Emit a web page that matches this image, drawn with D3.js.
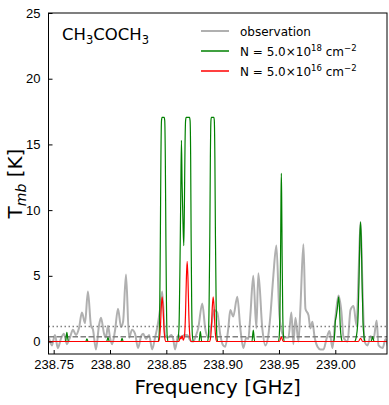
<!DOCTYPE html>
<html>
<head>
<meta charset="utf-8">
<style>
  body { margin: 0; background: #fff; }
  svg { display: block; font-family: "DejaVu Sans", sans-serif; }
  .axis text { font-size: 13px; fill: #000; }
  .axis line { stroke: #000; stroke-width: 1; }
  .axis path { display: none; }
  .line { fill: none; stroke-linejoin: round; }
</style>
</head>
<body>
<svg width="389" height="405"></svg>
<script src="https://d3js.org/d3.v7.min.js"></script>
<script>

// observation: frequency (GHz) and T_mb (K)
var obsFreq = [238.7457, 238.7484, 238.7511, 238.7537, 238.7564, 238.7591, 238.7617, 238.7644, 238.7671, 238.7698,
  238.7724, 238.7751, 238.7778, 238.7804, 238.7831, 238.7849, 238.7875, 238.7902, 238.7920, 238.7947,
  238.7964, 238.7982, 238.8000, 238.8018, 238.8044, 238.8071, 238.8098, 238.8116, 238.8142, 238.8169,
  238.8196, 238.8222, 238.8249, 238.8276, 238.8294, 238.8320, 238.8347, 238.8374, 238.8400, 238.8418,
  238.8445, 238.8463, 238.8489, 238.8516, 238.8543, 238.8561, 238.8578, 238.8605, 238.8632, 238.8658,
  238.8685, 238.8712, 238.8738, 238.8765, 238.8783, 238.8819, 238.8845, 238.8872, 238.8899, 238.8925,
  238.8952, 238.8979, 238.9005, 238.9023, 238.9050, 238.9068, 238.9094, 238.9130, 238.9157, 238.9183,
  238.9210, 238.9228, 238.9246, 238.9272, 238.9299, 238.9317, 238.9352, 238.9379, 238.9406, 238.9424,
  238.9450, 238.9477, 238.9504, 238.9530, 238.9557, 238.9584, 238.9610, 238.9628, 238.9646, 238.9673,
  238.9690, 238.9717, 238.9735, 238.9762, 238.9779, 238.9797, 238.9815, 238.9842, 238.9868, 238.9895,
  238.9922, 238.9948, 238.9975, 239.0002, 239.0028, 239.0055, 239.0073, 239.0109, 239.0135, 239.0162,
  239.0189, 239.0206, 239.0224, 239.0242, 239.0260, 239.0286, 239.0313, 239.0340, 239.0367, 239.0384,
  239.0420, 239.0447, 239.0464];
var obsT = [0.3, -0.3, 0.5, -0.5, 0.2, 0.6, -0.2, 0.3, 0.9, 0.5,
  1.0, 2.2, 1.4, 3.8, 1.2, 0.9, -0.6, 1.2, 1.8, 0.6,
  0.3, 1.2, 0.3, -0.2, 0.8, 2.5, 1.1, 1.5, 5.1, 0.3,
  0.9, 0.6, -0.5, 0.4, 0.6, 0.2, 0.5, -0.6, 0.3, 1.0,
  2.5, 3.8, 0.5, 0.3, 0.5, 0.2, -0.6, 0.5, 0.3, 0.5,
  0.5, 0.1, 0.0, 0.5, 1.0, 2.9, 1.0, 0.3, 1.2, 2.4,
  2.2, 0.5, -0.3, -0.4, 1.0, 2.4, 1.9, 3.4, 1.0, -0.5,
  0.3, 0.2, 2.0, 5.0, 1.0, 5.2, 1.0, -0.3, 0.5, 2.0,
  5.0, 7.3, 2.0, 0.6, 0.3, 0.3, 2.2, -0.2, 1.8, 0.0,
  2.5, 7.4, 2.5, 2.0, 1.0, 1.5, 0.4, -0.4, -0.6, -0.6,
  0.2, 0.8, -0.5, 1.9, 3.5, 2.2, 0.3, 0.0, 2.4, 2.7,
  1.2, 5.0, 9.1, 4.0, 0.0, -0.3, 0.4, 0.2, 1.6, -0.3,
  -0.5, 0.2, -0.3];

// model N = 5.0e18 cm^-2
var modelHigh = [[238.7454, 0], [238.7605, 0], [238.7617, 0.7], [238.7630, 0],
  [238.7785, 0], [238.7795, 0.2], [238.7805, 0],
  [238.7970, 0], [238.7982, 0.3], [238.7994, 0],
  [238.8097, 0], [238.8107, 0.25], [238.8117, 0],
  [238.8428, 0], [238.8436, 0.5], [238.8442, 3], [238.8447, 8], [238.8452, 14], [238.8457, 16.8], [238.8462, 17.05],
  [238.8481, 17.05], [238.8486, 16.8], [238.8491, 14], [238.8496, 8], [238.8501, 3], [238.8507, 0.5], [238.8515, 0],
  [238.8600, 0], [238.8612, 1], [238.8620, 5], [238.8628, 11], [238.8634, 15.3], [238.8640, 12], [238.8648, 9],
  [238.8655, 7.3], [238.8660, 10], [238.8666, 15], [238.8671, 16.8], [238.8676, 17.05], [238.8706, 17.05],
  [238.8711, 16.8], [238.8716, 14], [238.8720, 8], [238.8725, 3], [238.8731, 0.5], [238.8740, 0],
  [238.8790, 0], [238.8802, 0.75], [238.8814, 0],
  [238.8866, 0], [238.8874, 0.5], [238.8880, 3], [238.8886, 8], [238.8891, 14], [238.8896, 16.8], [238.8900, 17.05],
  [238.8922, 17.05], [238.8926, 16.8], [238.8931, 14], [238.8936, 8], [238.8942, 3], [238.8948, 0.5], [238.8956, 0],
  [238.9260, 0], [238.9272, 0.87], [238.9284, 0],
  [238.9495, 0], [238.9503, 0.5], [238.9509, 2.5], [238.9514, 6.5], [238.9518, 11], [238.9521, 12.8],
  [238.9524, 11], [238.9528, 6.5], [238.9533, 2.5], [238.9539, 0.5], [238.9547, 0],
  [238.9985, 0], [238.9993, 0.4], [239.0000, 1.5], [239.0008, 1.9], [239.0018, 2.5], [239.0030, 3.4],
  [239.0038, 2.4], [239.0045, 1.0], [239.0053, 0.3], [239.0062, 0],
  [239.0170, 0], [239.0185, 0.3], [239.0200, 1.5], [239.0210, 4.5], [239.0218, 8.0], [239.0224, 9.1],
  [239.0230, 8.0], [239.0238, 4.5], [239.0246, 1.5], [239.0256, 0.3], [239.0265, 0],
  [239.0318, 0], [239.0331, 0.37], [239.0344, 0], [239.0459, 0]];

// model N = 5.0e16 cm^-2
var modelLow = [[238.7454, 0], [238.8430, 0], [238.8440, 0.3], [238.8448, 1.2], [238.8455, 2.6], [238.8463, 3.4],
  [238.8471, 2.6], [238.8478, 1.2], [238.8486, 0.3], [238.8496, 0],
  [238.8612, 0], [238.8622, 0.3], [238.8630, 0.2], [238.8640, 0.45], [238.8650, 0.1],
  [238.8662, 0.5], [238.8670, 2.0], [238.8678, 4.8], [238.8685, 6.1], [238.8692, 4.8], [238.8700, 2.0],
  [238.8708, 0.5], [238.8718, 0],
  [238.8883, 0], [238.8893, 0.3], [238.8901, 1.2], [238.8908, 2.6], [238.8916, 3.4], [238.8924, 2.6],
  [238.8931, 1.2], [238.8939, 0.3], [238.8949, 0],
  [238.9505, 0], [238.9521, 0.35], [238.9537, 0],
  [239.0205, 0], [239.0224, 0.25], [239.0243, 0], [239.0459, 0]];

var rms = 0.37, threeSigma = 1.15;
var xTicks = [238.75, 238.80, 238.85, 238.90, 238.95, 239.00];
var yTicks = [0, 5, 10, 15, 20, 25];

var svg = d3.select("svg"),
    margin = {top: 13, right: 2, bottom: 51, left: 48.5},
    width = svg.attr("width") - margin.left - margin.right,
    height = svg.attr("height") - margin.top - margin.bottom,
    g = svg.append("g").attr("transform", "translate(" + margin.left + "," + margin.top + ")");

var x = d3.scaleLinear().domain([238.7454, 239.0459]).range([0, width]),
    y = d3.scaleLinear().domain([-0.95, 25]).range([height, 0]);

var line = d3.line()
    .curve(d3.curveMonotoneX)
    .x(function(d) { return x(d[0]); })
    .y(function(d) { return y(d[1]); });

g.append("defs").append("clipPath").attr("id", "clip")
  .append("rect").attr("width", width).attr("height", height);

var plot = g.append("g").attr("clip-path", "url(#clip)");

var obs = obsFreq.map(function(f, i) { return [f, obsT[i]]; });

plot.append("path")
    .attr("class", "line")
    .attr("d", line(obs))
    .style("stroke", "#b0b0b0")
    .style("stroke-width", 2);

plot.append("line")
    .attr("x1", 0).attr("x2", width)
    .attr("y1", y(rms)).attr("y2", y(rms))
    .style("stroke", "#808080").style("stroke-width", 1.5)
    .style("stroke-dasharray", "5.5,2.5");

plot.append("line")
    .attr("x1", 0).attr("x2", width)
    .attr("y1", y(threeSigma)).attr("y2", y(threeSigma))
    .style("stroke", "#808080").style("stroke-width", 1.5)
    .style("stroke-dasharray", "1.5,2.5");

plot.append("path")
    .attr("class", "line")
    .attr("d", line(modelHigh))
    .style("stroke", "#008000")
    .style("stroke-width", 1.2);

plot.append("path")
    .attr("class", "line")
    .attr("d", line(modelLow))
    .style("stroke", "#ff0000")
    .style("stroke-width", 1.2);

g.append("g")
    .attr("class", "axis axis--x")
    .attr("transform", "translate(0," + height + ")")
    .call(d3.axisBottom(x).tickValues(xTicks).tickFormat(d3.format(".2f")).tickSizeInner(-4).tickSizeOuter(0).tickPadding(6));

g.append("g")
    .attr("class", "axis axis--y")
    .call(d3.axisLeft(y).tickValues(yTicks).tickSizeInner(-4).tickSizeOuter(0).tickPadding(8));

g.append("rect")
    .attr("width", width).attr("height", height)
    .style("fill", "none").style("stroke", "#000").style("stroke-width", 1);

// axis labels
svg.append("text")
    .attr("x", margin.left + width / 2)
    .attr("y", 394)
    .attr("text-anchor", "middle")
    .style("font-size", "20px")
    .text("Frequency [GHz]");

var ylab = svg.append("text")
    .attr("transform", "translate(22," + (margin.top + height / 2) + ") rotate(-90)")
    .attr("text-anchor", "middle")
    .style("font-size", "20px");
ylab.append("tspan").text("T");
ylab.append("tspan").attr("dy", 4).style("font-size", "14px").style("font-style", "italic").text("mb");
ylab.append("tspan").attr("dy", -4).text(" [K]");

// molecule name
var mol = svg.append("text").attr("x", 62).attr("y", 40).style("font-size", "16.5px");
mol.append("tspan").text("CH");
mol.append("tspan").attr("dy", 4).style("font-size", "11.5px").text("3");
mol.append("tspan").attr("dy", -4).text("COCH");
mol.append("tspan").attr("dy", 4).style("font-size", "11.5px").text("3");

// legend
var legendItems = [
  {color: "#b0b0b0", w: 2, label: ["observation"]},
  {color: "#008000", w: 1.5, label: ["N = 5.0\u00d710", "18", " cm", "\u22122"]},
  {color: "#ff0000", w: 1.5, label: ["N = 5.0\u00d710", "16", " cm", "\u22122"]}
];

var legend = svg.append("g").attr("transform", "translate(201,31)");
legendItems.forEach(function(d, i) {
  var row = legend.append("g").attr("transform", "translate(0," + (i * 20) + ")");
  row.append("line").attr("x1", 0).attr("x2", 28)
      .style("stroke", d.color).style("stroke-width", d.w);
  var t = row.append("text").attr("x", 39).attr("y", 4.5).style("font-size", "12px");
  t.append("tspan").text(d.label[0]);
  if (d.label.length > 1) {
    t.append("tspan").attr("dy", -5).style("font-size", "8.5px").text(d.label[1]);
    t.append("tspan").attr("dy", 5).text(d.label[2]);
    t.append("tspan").attr("dy", -5).style("font-size", "8.5px").text(d.label[3]);
  }
});

</script>
</body>
</html>
